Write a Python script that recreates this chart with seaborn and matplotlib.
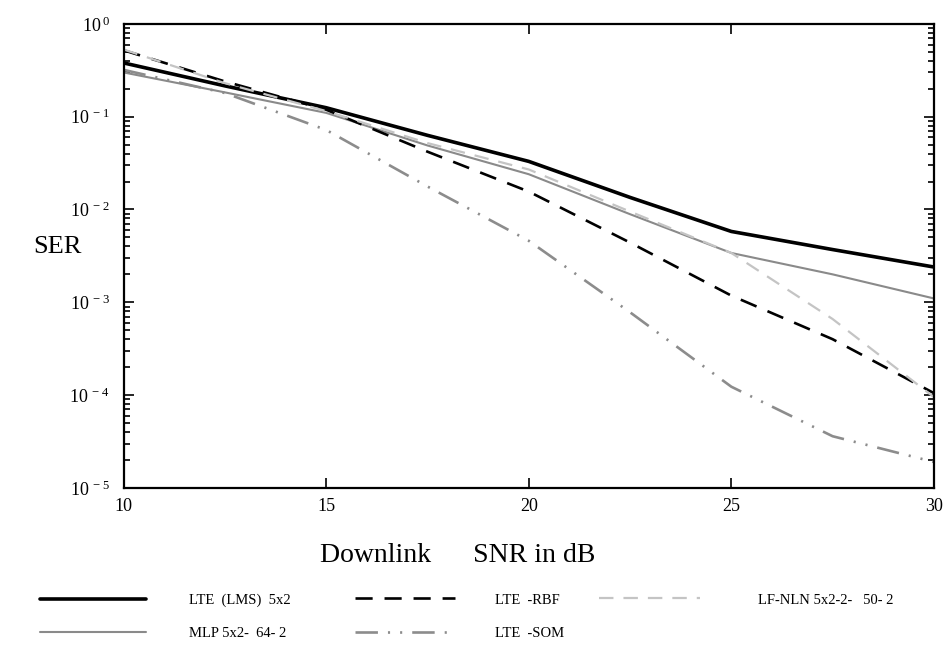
import matplotlib
matplotlib.use("Agg")
import matplotlib.pyplot as plt
from matplotlib.ticker import FixedLocator, FuncFormatter, LogLocator, NullFormatter
import numpy as np
import pandas as pd
import seaborn as sns

# values (SER, log scale)
snr = [10, 12.5, 15, 17.5, 20, 22.5, 25, 27.5, 30]
ser_lms = [0.38, 0.215, 0.125, 0.063, 0.033, 0.0135, 0.0058, 0.0037, 0.0024]
ser_mlp = [0.30, 0.183, 0.11, 0.049, 0.024, 0.0089, 0.0034, 0.0020, 0.0011]
ser_rbf = [0.52, 0.24, 0.119, 0.042, 0.0156, 0.0044, 0.00118, 0.00040, 0.000105]
ser_som = [0.32, 0.18, 0.072, 0.0177, 0.0046, 0.00078, 0.000123, 0.000036, 0.000019]
ser_lfnln = [0.53, 0.23, 0.115, 0.052, 0.027, 0.0095, 0.0034, 0.00066, 0.000095]

labels = ["LTE  (LMS)  5x2", "MLP 5x2-  64- 2", "LTE  -RBF", "LTE  -SOM",
          "LF-NLN 5x2-2-   50- 2"]

sns.set_style("ticks")
plt.rcParams['font.family'] = ['Liberation Serif', 'DejaVu Serif']
plt.rcParams['mathtext.fontset'] = 'custom'
plt.rcParams['mathtext.rm'] = 'Liberation Serif'
plt.rcParams['text.color'] = 'black'
plt.rcParams['xtick.color'] = 'black'
plt.rcParams['ytick.color'] = 'black'
plt.rcParams['axes.labelcolor'] = 'black'
plt.rcParams['axes.edgecolor'] = 'black'

fig = plt.figure(figsize=(9.51, 6.47), dpi=100)
ax = fig.add_axes([0.130, 0.246, 0.852, 0.717])

styles = [
    dict(color='black', lw=2.6, ls='-'),
    dict(color='#8a8a8a', lw=1.5, ls='-'),
    dict(color='black', lw=1.9, ls=(0, (6.5, 4.5))),
    dict(color='#8c8c8c', lw=1.9, ls=(0, (8.5, 3.8, 0.8, 3.8, 0.8, 3.8))),
    dict(color='#c4c4c4', lw=1.6, ls=(0, (6.5, 4.5))),
]
series = [ser_lms, ser_mlp, ser_rbf, ser_som, ser_lfnln]

handles = []
for lab, vals, st in zip(labels, series, styles):
    df = pd.DataFrame({"snr": snr, "ser": vals})
    sns.lineplot(data=df, x="snr", y="ser", ax=ax, label=lab, legend=False,
                 color=st['color'], linewidth=st['lw'], linestyle=st['ls'])
    handles.append(ax.lines[-1])

ax.set_yscale('log')
ax.set_xlim(10, 30)
ax.set_ylim(1e-5, 1)
ax.xaxis.set_major_locator(FixedLocator([10, 15, 20, 25, 30]))
ax.yaxis.set_major_locator(LogLocator(base=10, numticks=10))
ax.yaxis.set_minor_locator(LogLocator(base=10, subs=np.arange(2, 10), numticks=10))
ax.yaxis.set_minor_formatter(NullFormatter())
ax.yaxis.set_major_formatter(FuncFormatter(
    lambda v, p: r'$\mathregular{10^{\,%d}}$' % int(round(np.log10(v)))))
ax.tick_params(which='both', direction='in', top=True, right=True, width=1.2)
ax.tick_params(which='major', length=7, labelsize=13)
ax.tick_params(which='minor', length=4)
ax.tick_params(axis='y', pad=10)
ax.tick_params(axis='x', pad=7)
for s in ax.spines.values():
    s.set_linewidth(1.6)

ax.set_xlabel("Downlink      SNR in dB", fontsize=20)
ax.xaxis.set_label_coords(0.412, -0.118)
ax.set_ylabel("")
fig.text(0.06, 0.618, "SER", fontsize=19, ha='center', va='center')

leg_kw = dict(frameon=False, fontsize=10.5, borderpad=0, borderaxespad=0,
              labelspacing=1.4, loc='upper left')
leg1 = fig.legend(handles=handles[0:2], labels=labels[0:2],
                  bbox_to_anchor=(0.042, 0.083), handlelength=7.3,
                  handletextpad=2.9, **leg_kw)
leg2 = fig.legend(handles=handles[2:4], labels=labels[2:4],
                  bbox_to_anchor=(0.373, 0.083), handlelength=6.9,
                  handletextpad=2.7, **leg_kw)
leg3 = fig.legend(handles=handles[4:5], labels=labels[4:5],
                  bbox_to_anchor=(0.630, 0.083), handlelength=6.9,
                  handletextpad=4.0, **leg_kw)

fig.savefig("out.png", dpi=100)
